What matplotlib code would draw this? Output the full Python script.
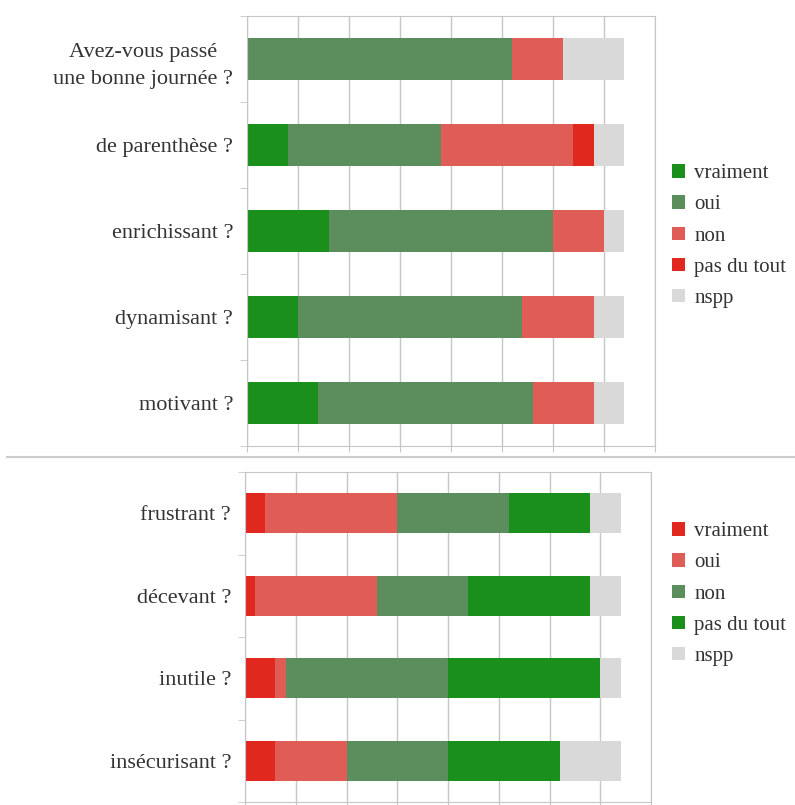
import matplotlib
matplotlib.use("Agg")
import matplotlib.pyplot as plt
from matplotlib.lines import Line2D
import numpy as np

# --- Données (nombre de réponses, 37 participants) ---
haut_questions = ["Avez-vous passé\nune bonne journée ?", "de parenthèse ?",
                  "enrichissant ?", "dynamisant ?", "motivant ?"]
haut_vraiment = [0, 4, 8, 5, 7]
haut_oui = [26, 15, 22, 22, 21]
haut_non = [5, 13, 5, 7, 6]
haut_pas_du_tout = [0, 2, 0, 0, 0]
haut_nspp = [6, 3, 2, 3, 3]

bas_questions = ["frustrant ?", "décevant ?", "inutile ?", "insécurisant ?"]
bas_vraiment = [2, 1, 3, 3]
bas_oui = [13, 12, 1, 7]
bas_non = [11, 9, 16, 10]
bas_pas_du_tout = [8, 12, 15, 11]
bas_nspp = [3, 3, 2, 6]

reponses = ["vraiment", "oui", "non", "pas du tout", "nspp"]

VERT = "#1b8f1b"
VERT_MOYEN = "#5c8d5c"
ROUGE_CLAIR = "#e05c57"
ROUGE = "#e0281f"
GRIS = "#d9d9d9"
GRILLE = "#c6c6c6"

plt.rcParams["font.family"] = ["Liberation Serif", "DejaVu Serif"]

fig = plt.figure(figsize=(7.95, 8.05), dpi=100)
W, H = 795, 805


def panneau(rect, questions, series, couleurs, legende_pos):
    ax = fig.add_axes([rect[0] / W, 1 - rect[3] / H, (rect[2] - rect[0]) / W,
                       (rect[3] - rect[1]) / H])
    y = np.arange(len(questions))
    gauche = np.zeros(len(questions))
    for nom, vals, c in zip(reponses, series, couleurs):
        ax.barh(y, vals, left=gauche, height=0.49, color=c, label=nom, zorder=2)
        gauche += np.array(vals)
    ax.set_xlim(0, 40)
    ax.set_ylim(len(questions) - 0.5, -0.5)
    ax.set_xticks(np.arange(0, 41, 5))
    ax.set_xticklabels([])
    ax.grid(axis="x", color=GRILLE, linewidth=1, zorder=0)
    ax.set_yticks(y)
    ax.set_yticklabels(questions, fontsize=16, color="#333333",
                       multialignment="center", linespacing=1.6)
    ax.set_yticks(np.arange(-0.5, len(questions) - 0.4, 1), minor=True)
    ax.tick_params(axis="y", which="major", length=0, pad=10)
    ax.tick_params(axis="y", which="minor", length=5, color=GRILLE)
    ax.tick_params(axis="x", length=4, color=GRILLE)
    for s in ax.spines.values():
        s.set_color(GRILLE)
    ax.legend(loc="upper left", bbox_to_anchor=(legende_pos[0] / W, legende_pos[1] / H),
              bbox_transform=fig.transFigure, frameon=False, fontsize=15,
              handlelength=0.6, handleheight=0.6, handletextpad=0.45,
              labelspacing=0.58, labelcolor="#333333", borderaxespad=0)
    return ax


panneau((247, 16, 655, 446), haut_questions,
        [haut_vraiment, haut_oui, haut_non, haut_pas_du_tout, haut_nspp],
        [VERT, VERT_MOYEN, ROUGE_CLAIR, ROUGE, GRIS], (664, H - 156))

panneau((245, 472, 651, 802), bas_questions,
        [bas_vraiment, bas_oui, bas_non, bas_pas_du_tout, bas_nspp],
        [ROUGE, ROUGE_CLAIR, VERT_MOYEN, VERT, GRIS], (664, H - 514))

# trait de séparation entre les deux graphiques
fig.add_artist(Line2D([7 / W, 1], [1 - 457 / H, 1 - 457 / H], color="#cccccc",
                      linewidth=1.5, transform=fig.transFigure))

fig.savefig("out.png", dpi=100, facecolor="white")
